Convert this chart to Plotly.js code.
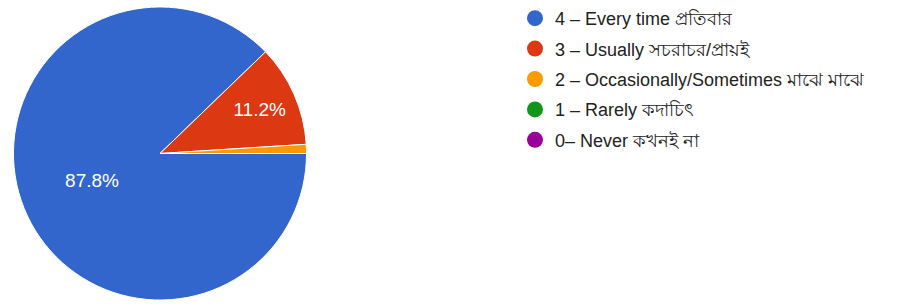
<!DOCTYPE html>
<html>
<head>
<meta charset="utf-8">
<script src="https://cdn.plot.ly/plotly-3.0.1.min.js"></script>
<style>html,body{margin:0;padding:0;background:#fff;}#chart{width:907px;height:305px;}</style>
</head>
<body>
<div id="chart"></div>
<script>
const labels = [
  "4 – Every time প্রতিবার",
  "3 – Usually সচরাচর/প্রায়ই",
  "2 – Occasionally/Sometimes মাঝে মাঝে",
  "1 – Rarely কদাচিৎ",
  "0– Never কখনই না"
];
const values = [87.8, 11.2, 1.0, 0, 0];
const colors = ["#3366cc", "#dc3912", "#ff9900", "#109618", "#990099"];
const shownText = [true, true, false, false, false];

const W = 907, H = 305;
const pie = {
  type: "pie",
  labels: labels,
  values: values,
  sort: false,
  direction: "clockwise",
  rotation: 90,
  marker: {colors: colors, line: {color: "#ffffff", width: 1}},
  texttemplate: shownText.map(s => s ? "%{percent:.1%}" : ""),
  textposition: "inside",
  insidetextorientation: "horizontal",
  textfont: {color: "#ffffff", size: 19, family: "Arial, 'Liberation Sans', sans-serif"},
  hoverinfo: "label+percent",
  showlegend: false,
  domain: {x: [13 / W, 307 / W], y: [1 - 300 / H, 1 - 5 / H]}
};

const legendTraces = labels.map((lab, i) => ({
  type: "scatter",
  mode: "markers",
  x: [null], y: [null],
  name: lab,
  legendgroup: "g" + i,
  marker: {color: colors[i], size: 18, symbol: "circle"},
  hoverinfo: "skip"
}));

const layout = {
  width: W, height: H,
  margin: {l: 0, r: 0, t: 0, b: 0},
  paper_bgcolor: "#ffffff",
  plot_bgcolor: "#ffffff",
  xaxis: {visible: false, domain: [0.9, 1]},
  yaxis: {visible: false},
  showlegend: true,
  legend: {
    x: 515 / W, xanchor: "left",
    y: 1 + 2 / H, yanchor: "top",
    font: {size: 18, color: "#222222", family: "Arial, 'Liberation Sans', 'Noto Sans', sans-serif"},
    itemsizing: "trace",
    tracegroupgap: 4,
    bgcolor: "rgba(0,0,0,0)"
  }
};

Plotly.newPlot("chart", [pie].concat(legendTraces), layout, {displayModeBar: false, staticPlot: true});
</script>
</body>
</html>
